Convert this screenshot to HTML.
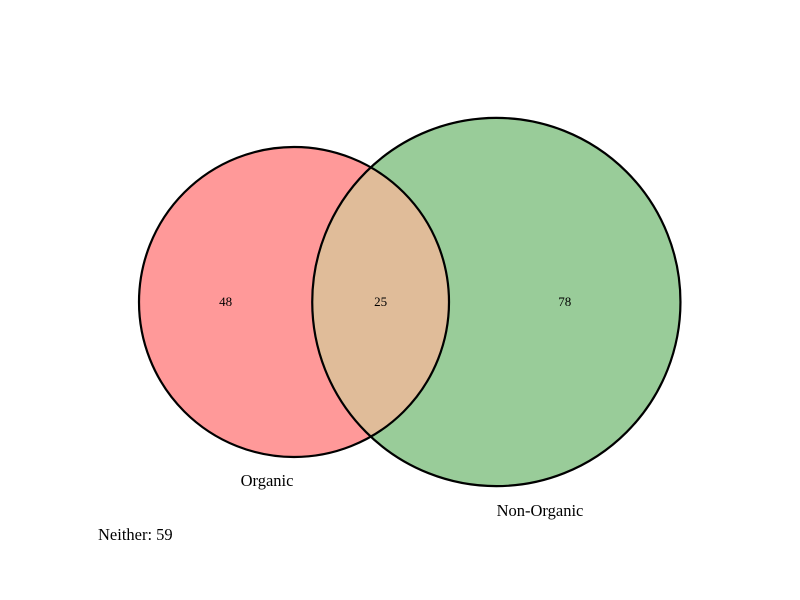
<!DOCTYPE html>
<html><head><meta charset="utf-8"><style>
html,body{margin:0;padding:0;background:#fff;width:800px;height:600px;overflow:hidden}
svg text{font-family:"Liberation Serif",serif;fill:#000}
</style></head><body>
<svg id="chart" width="800" height="600" xmlns="http://www.w3.org/2000/svg"></svg>
<script>
const setNames = ["Organic", "Non-Organic"];
const regionCounts = [48, 25, 78]; // A only, A∩B, B only
const neitherCount = 59;

const NS = "http://www.w3.org/2000/svg";
const svg = document.getElementById("chart");
const cy = 302, cxA = 294;
const k = 155 / Math.sqrt(73);
const areaA = regionCounts[0] + regionCounts[1];
const areaB = regionCounts[2] + regionCounts[1];
const rA = k * Math.sqrt(areaA), rB = k * Math.sqrt(areaB);
function lens(d, r1, r2) {
  if (d >= r1 + r2) return 0;
  if (d <= Math.abs(r1 - r2)) return Math.PI * Math.min(r1, r2) ** 2;
  const a1 = Math.acos((d*d + r1*r1 - r2*r2) / (2*d*r1));
  const a2 = Math.acos((d*d + r2*r2 - r1*r1) / (2*d*r2));
  return r1*r1*(a1 - Math.sin(2*a1)/2) + r2*r2*(a2 - Math.sin(2*a2)/2);
}
const target = Math.PI * k * k * regionCounts[1];
let lo = Math.abs(rA - rB), hi = rA + rB;
for (let i = 0; i < 80; i++) { const m = (lo+hi)/2; if (lens(m, rA, rB) > target) lo = m; else hi = m; }
const d = (lo+hi)/2;
const cxB = cxA + d;

function mk(tag, attrs, name) {
  const e = document.createElementNS(NS, tag);
  for (const key in attrs) e.setAttribute(key, attrs[key]);
  
  
  svg.appendChild(e);
  return e;
}
const defs = document.createElementNS(NS, "defs");
defs.innerHTML = '<clipPath id="clipA"><circle cx="'+cxA+'" cy="'+cy+'" r="'+rA+'"/></clipPath>';
svg.appendChild(defs);
mk("circle", {cx:cxA, cy:cy, r:rA, fill:"#ff9999"}, "organic-circle-fill");
mk("circle", {cx:cxB, cy:cy, r:rB, fill:"#99cc99"}, "non-organic-circle-fill");
mk("circle", {cx:cxB, cy:cy, r:rB, fill:"#e0bc99", "clip-path":"url(#clipA)"}, "overlap-region");
mk("circle", {cx:cxA, cy:cy, r:rA, fill:"none", stroke:"#000", "stroke-width":2.2}, "organic-circle-outline");
mk("circle", {cx:cxB, cy:cy, r:rB, fill:"none", stroke:"#000", "stroke-width":2.2}, "non-organic-circle-outline");

const xs = [((cxA - rA) + (cxB - rB))/2, ((cxB - rB) + (cxA + rA))/2, ((cxA + rA) + (cxB + rB))/2];
const names = ["organic-only-count", "overlap-count", "non-organic-only-count"];
regionCounts.forEach((v, i) => {
  const t = mk("text", {x:xs[i], y:cy+4, "text-anchor":"middle", "font-size":13}, names[i]);
  t.textContent = v;
});
const la = mk("text", {x:cxA - 27, y:cy + rA + 29, "text-anchor":"middle", "font-size":16.5}, "organic-label");
la.textContent = setNames[0];
const lb = mk("text", {x:540, y:cy + rB + 30, "text-anchor":"middle", "font-size":16.5}, "non-organic-label");
lb.textContent = setNames[1];
const nt = mk("text", {x:98, y:540, "font-size":16.5}, "neither-label");
nt.textContent = "Neither: " + neitherCount;
</script>
</body></html>
